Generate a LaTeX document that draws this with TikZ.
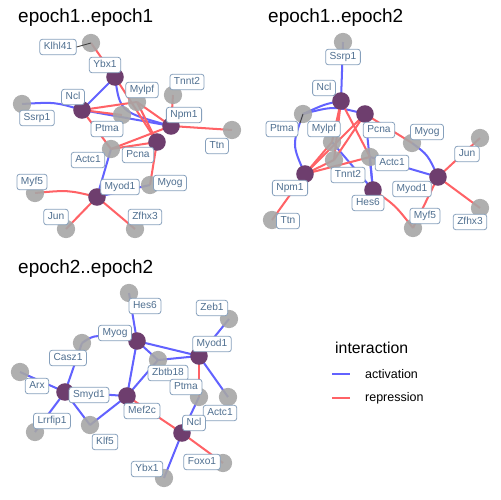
\documentclass[tikz,border=0pt]{standalone}
\usepackage{fontspec}
\setmainfont{Liberation Sans}
\definecolor{actblue}{HTML}{6262FF}
\definecolor{repred}{HTML}{FF6266}
\definecolor{tfpurple}{HTML}{6E3E6E}
\definecolor{genegray}{HTML}{A6A6A6}
\definecolor{labtext}{HTML}{4F6F90}
\definecolor{labline}{HTML}{86A0BC}
\tikzset{
  act/.style={draw=actblue, line width=1.15pt},
  rep/.style={draw=repred, line width=1.15pt},
  seg/.style={draw=black!75, line width=0.5pt},
  genelab/.style={draw=labline, fill=white, rounded corners=1.5pt, text=labtext,
    font=\fontsize{5.8}{6}\selectfont, text height=4.3pt, text depth=1.3pt,
    inner xsep=2.3pt, inner ysep=1.6pt, line width=0.45pt},
  ptitle/.style={font=\fontsize{10.8}{12}\selectfont, anchor=base west},
}
\begin{document}
\begin{tikzpicture}[x=0.02cm, y=-0.02cm]
\useasboundingbox (0,0) rectangle (500,500);

% epoch1..epoch1
\node[ptitle] (t1) at (12,23) {epoch1..epoch1};
\foreach \n/\x/\y in {klhl41/91/43, ybx1/115/77, ncl/82/110, ssrp1/22/104, mylpf/137/102,
    tnnt2/173/95, ptma/122/115, npm1/171/126, ttn/232/130, pcna/157/142, actc1/111/149,
    myod1/97/197, myog/150/185, myf5/35/193, jun/66/229, zfhx3/135/229}
  \coordinate (p1\n) at (\x,\y);
\foreach \a/\b in {ybx1/ncl, ncl/npm1, myod1/actc1, myod1/myog}
  \draw[act] (p1\a) -- (p1\b);
\draw[act] (p1ssrp1) .. controls (55,102) .. (p1ncl);
\draw[act] (p1ybx1) .. controls (120,112) .. (p1npm1);
\foreach \a/\b in {klhl41/ybx1, ybx1/pcna, ncl/mylpf, ncl/ptma, ncl/actc1, mylpf/npm1,
    mylpf/pcna, tnnt2/npm1, npm1/ttn, npm1/actc1, pcna/actc1, pcna/myog,
    myod1/jun, myod1/zfhx3}
  \draw[rep] (p1\a) -- (p1\b);
\draw[rep] (p1myf5) .. controls (68,190) .. (p1myod1);
\foreach \n in {klhl41, ssrp1, mylpf, tnnt2, ptma, ttn, actc1, myog, myf5, jun, zfhx3}
  \fill[genegray, opacity=0.9] (p1\n) circle (5.2pt);
\foreach \n in {ybx1, ncl, npm1, pcna, myod1}
  \fill[tfpurple] (p1\n) circle (5pt);
\foreach \n/\t/\x/\y in {klhl41/Klhl41/58/47, ybx1/Ybx1/105/65, ncl/Ncl/73/97,
    ssrp1/Ssrp1/37/118, mylpf/Mylpf/142/90, tnnt2/Tnnt2/187/82, ptma/Ptma/107/129,
    npm1/Npm1/184/115, ttn/Ttn/217/146, pcna/Pcna/138/155, actc1/Actc1/88/160,
    myod1/Myod1/120/187, myog/Myog/170/183, myf5/Myf5/32/182, jun/Jun/56/217,
    zfhx3/Zfhx3/145/217}
  \node[genelab] (p1\n-l) at (\x,\y) {\t};
\draw[seg] (p1klhl41-l.east) -- (p1klhl41);

% epoch1..epoch2
\node[ptitle] (t2) at (262,23) {epoch1..epoch2};
\foreach \n/\x/\y in {ssrp1/343/42, ncl/341/101, pcna/365/114, ptma/303/114, mylpf/332/142,
    tnnt2/334/160, actc1/370/157, myog/412/143, npm1/305/174, ttn/272/220, hes6/373/190,
    myod1/438/177, jun/480/138, zfhx3/480/208, myf5/413/228}
  \coordinate (p2\n) at (\x,\y);
\foreach \a/\b in {ssrp1/ncl, mylpf/hes6, pcna/hes6, actc1/hes6, myod1/actc1}
  \draw[act] (p2\a) -- (p2\b);
\draw[act] (p2ncl) .. controls (325,104) .. (p2ptma);
\draw[act] (p2ptma) .. controls (334,106) .. (p2pcna);
\draw[act] (p2ptma) .. controls (292,145) .. (p2npm1);
\draw[act] (p2myog) .. controls (428,155) .. (p2myod1);
\foreach \a/\b in {ncl/mylpf, ncl/tnnt2, ncl/actc1, pcna/npm1, pcna/tnnt2, pcna/myog,
    npm1/mylpf, npm1/tnnt2, npm1/actc1, npm1/ttn, myod1/myf5, myod1/jun, myod1/zfhx3}
  \draw[rep] (p2\a) -- (p2\b);
\draw[rep] (p2hes6) .. controls (395,205) .. (p2myf5);
\foreach \n in {ssrp1, ptma, mylpf, tnnt2, actc1, myog, ttn, jun, zfhx3, myf5}
  \fill[genegray, opacity=0.9] (p2\n) circle (5.2pt);
\foreach \n in {ncl, pcna, npm1, hes6, myod1}
  \fill[tfpurple] (p2\n) circle (5pt);
\draw[seg] (300,123) -- (p2ptma);
\foreach \n/\t/\x/\y in {ssrp1/Ssrp1/343/57, ncl/Ncl/324/88, pcna/Pcna/379/130,
    ptma/Ptma/282/129, mylpf/Mylpf/324/129, tnnt2/Tnnt2/348/175, actc1/Actc1/392/163,
    myog/Myog/427/132, npm1/Npm1/290/188, ttn/Ttn/288/221, hes6/Hes6/368/203,
    myod1/Myod1/412/189, jun/Jun/467/154, zfhx3/Zfhx3/470/222, myf5/Myf5/425/216}
  \node[genelab] (p2\n-l) at (\x,\y) {\t};

% epoch2..epoch2
\node[ptitle] (t3) at (12,273) {epoch2..epoch2};
\foreach \n/\x/\y in {hes6/129/293, zeb1/229/319, myog/137/341, myod1/199/356, casz1/82/343,
    zbtb18/158/360, arx/20/372, smyd1/65/392, mef2c/127/396, ptma/199/397, actc1/228/397,
    klf5/90/425, lrrfip1/35/432, ncl/182/433, ybx1/164/478, foxo1/223/463}
  \coordinate (p3\n) at (\x,\y);
\foreach \a/\b in {hes6/myog, myog/myod1, myog/zbtb18, myog/mef2c, myod1/zeb1,
    myod1/zbtb18, myod1/actc1, casz1/smyd1, arx/smyd1, lrrfip1/smyd1, smyd1/mef2c,
    smyd1/klf5, mef2c/klf5, mef2c/zbtb18, ncl/ptma, ncl/ybx1}
  \draw[act] (p3\a) -- (p3\b);
\draw[act] (p3casz1) .. controls (95,334) .. (p3myog);
\foreach \a/\b in {myod1/ptma, mef2c/ncl, ncl/foxo1}
  \draw[rep] (p3\a) -- (p3\b);
\foreach \n in {hes6, zeb1, casz1, zbtb18, arx, ptma, actc1, klf5, lrrfip1, ybx1, foxo1}
  \fill[genegray, opacity=0.9] (p3\n) circle (5.2pt);
\foreach \n in {myog, myod1, smyd1, mef2c, ncl}
  \fill[tfpurple] (p3\n) circle (5pt);
\foreach \n/\t/\x/\y in {hes6/Hes6/145/306, zeb1/Zeb1/212/308, myog/Myog/115/333,
    myod1/Myod1/212/344, casz1/Casz1/68/358, zbtb18/Zbtb18/168/373, arx/Arx/37/386,
    smyd1/Smyd1/89/395, mef2c/Mef2c/142/411, ptma/Ptma/186/387, actc1/Actc1/220/413,
    klf5/Klf5/105/442, lrrfip1/Lrrfip1/52/421, ncl/Ncl/194/423, ybx1/Ybx1/147/469,
    foxo1/Foxo1/202/462}
  \node[genelab] (p3\n-l) at (\x,\y) {\t};

% legend
\node[font=\fontsize{9}{10}\selectfont, anchor=base west] (leg) at (329,353) {interaction};
\coordinate (ka0) at (332,374); \coordinate (ka1) at (350,374);
\coordinate (kr0) at (332,398); \coordinate (kr1) at (350,398);
\draw[act] (ka0) -- (ka1);
\draw[rep] (kr0) -- (kr1);
\node[font=\fontsize{7.1}{8}\selectfont, anchor=west] (leg-a) at (359,374) {activation};
\node[font=\fontsize{7.1}{8}\selectfont, anchor=west] (leg-r) at (359,398) {repression};
\end{tikzpicture}
\end{document}
